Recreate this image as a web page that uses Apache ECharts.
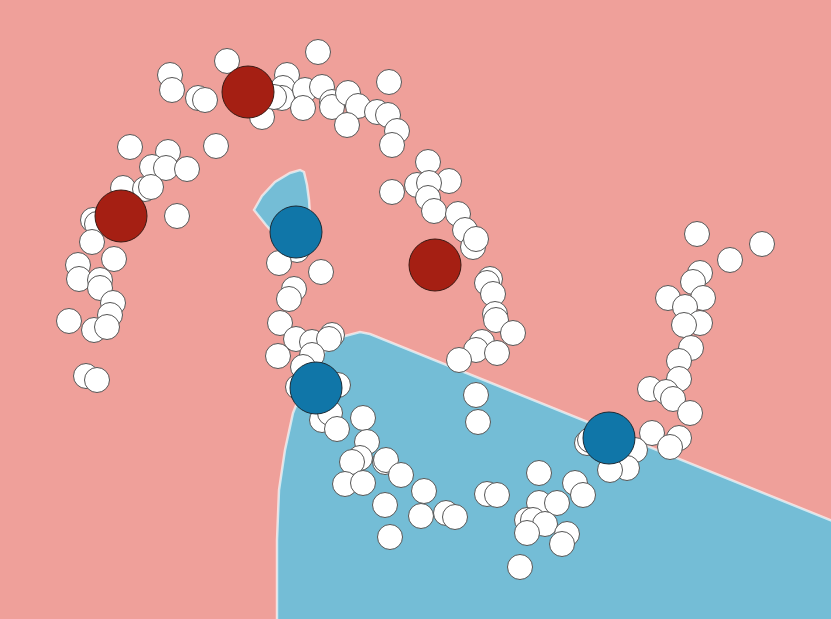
<!DOCTYPE html>
<html>
<head>
<meta charset="utf-8">
<script src="https://cdn.jsdelivr.net/npm/echarts@6/dist/echarts.min.js"></script>
<style>html,body{margin:0;padding:0;background:#efa09a;}#chart{width:831px;height:619px;}</style>
</head>
<body>
<div id="chart"></div>
<script>
// Sample points (x, y in plot units; y grows downward)
const samplePoints = [
  [227,61],[170,75],[172,90],[198,98],[205,100],[262,117],[130,147],[216,146],[168,152],[152,167],
  [166,168],[187,169],[123,188],[145,189],[151,187],[177,216],[93,220],[97,224],
  [318,52],[287,75],[283,88],[282,98],[274,97],[305,90],[303,108],[322,87],[332,102],[332,107],
  [348,93],[358,106],[347,125],[377,112],[388,115],[389,82],[397,131],[392,145],
  [92,242],[114,259],[78,265],[79,279],[100,280],[100,288],[113,303],[110,315],[69,321],[94,330],
  [107,327],[86,376],[97,380],
  [297,250],[279,263],[321,272],[294,289],[289,299],[280,323],[296,339],[312,342],[332,335],
  [329,339],[278,356],[312,355],[303,367],[298,387],[338,385],[322,420],[330,413],[337,429],
  [363,418],[367,442],
  [428,162],[392,192],[417,185],[449,181],[429,183],[428,198],[434,211],[458,214],[465,230],
  [473,247],[476,239],[490,279],[487,283],[493,294],[495,314],[496,320],[513,333],[482,342],
  [476,350],[497,353],[459,360],
  [476,395],[478,422],[360,458],[352,462],[385,462],[386,460],[401,475],[345,484],[363,483],
  [424,491],[385,505],[421,516],[446,513],[455,517],[390,537],[487,494],[497,495],[539,473],
  [539,503],[557,503],[575,483],[583,495],[527,520],[533,520],[545,524],[527,533],[567,534],
  [562,544],[520,567],[587,443],
  [697,234],[762,244],[730,260],[700,273],[693,282],[668,298],[703,298],[685,307],[700,323],
  [684,325],[691,348],[679,361],[679,379],[650,389],[666,392],[673,399],[690,413],[652,433],
  [679,438],[670,447],[635,450],[627,468],[610,470],[590,440]
];
// Cluster centres per class
const redCentres = [[248,92],[121,216],[435,265]];
const blueCentres = [[296,232],[316,388],[609,438]];
// Decision region (blue class) outlines
const blueRegionMain = [
  [277,640],[277,540],[279,490],[285,450],[293,413],[305,383],[318,360],[330,345],[345,336],
  [360,332],[370,334],[845,526],[845,640]
];
const blueRegionWedge = [
  [254,210],[262,196],[275,182],[290,173],[300,170],[304,172],[307,185],[309,200],[310,215],
  [300,232],[275,235],[266,225]
];
const regions = [blueRegionMain, blueRegionWedge];

const chart = echarts.init(document.getElementById('chart'), null, {renderer:'canvas'});
chart.setOption({
  backgroundColor: '#efa09a',
  animation: false,
  grid: {left:0, right:0, top:0, bottom:0},
  xAxis: {type:'value', min:0, max:831, show:false},
  yAxis: {type:'value', min:0, max:619, inverse:true, show:false},
  series: [
    {
      type: 'custom',
      data: regions.map((r, i) => [i]),
      clip: true,
      z: 1,
      renderItem: function (params, api) {
        const poly = regions[params.dataIndex];
        return {
          type: 'polygon',
          shape: {points: poly.map(p => api.coord(p))},
          style: {fill:'#74bdd6', stroke:'rgba(255,255,255,0.65)', lineWidth:2.5}
        };
      }
    },
    {
      type: 'scatter',
      data: samplePoints,
      symbolSize: 25,
      z: 2,
      itemStyle: {color:'#ffffff', borderColor:'#555555', borderWidth:1, opacity:1}
    },
    {
      type: 'scatter',
      data: redCentres,
      symbolSize: 52,
      z: 3,
      itemStyle: {color:'#a51f13', borderColor:'#3a1a14', borderWidth:1, opacity:1}
    },
    {
      type: 'scatter',
      data: blueCentres,
      symbolSize: 52,
      z: 3,
      itemStyle: {color:'#1076a8', borderColor:'#1a2a35', borderWidth:1, opacity:1}
    }
  ]
});
</script>
</body>
</html>
